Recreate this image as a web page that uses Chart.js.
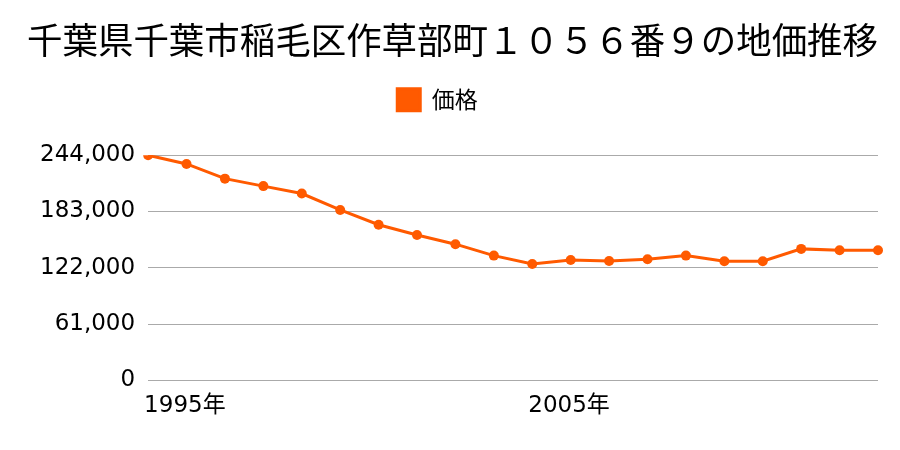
<!DOCTYPE html>
<html>
<head>
<meta charset="utf-8">
<script src="https://cdn.jsdelivr.net/npm/chart.js@4"></script>
<style>
  html, body { margin: 0; padding: 0; background: #fff; }
</style>
</head>
<body>
<canvas id="landChart" width="900" height="450"></canvas>
<script>
const years = ["1995", "1996", "1997", "1998", "1999", "2000", "2001", "2002", "2003", "2004",
               "2005", "2006", "2007", "2008", "2009", "2010", "2011", "2012", "2013", "2014"];
const prices = [244000, 234500, 218600, 210500, 202500, 184700, 168700, 157500, 147600, 135200,
                126100, 130500, 129400, 131300, 135200, 129100, 129100, 142500, 141100, 141100];
const shownYears = ["1995", "2005"];
const yTicks = [0, 61000, 122000, 183000, 244000];

const cjkFont = '"Noto Sans CJK JP", "Noto Sans", sans-serif';
const tickFont = '"DejaVu Sans", "Noto Sans CJK JP", sans-serif';
const lineColor = "#ff5a00";

// more room under the legend, and nudge it a bit to the left
const legendTweak = {
    id: "legendTweak",
    beforeInit(chart) {
        const legend = chart.legend;
        const fit = legend.fit;
        legend.fit = function () {
            fit.call(legend);
            this.height += 34;
        };
        const draw = legend.draw;
        legend.draw = function () {
            chart.ctx.save();
            chart.ctx.translate(-15, 0);
            draw.call(legend);
            chart.ctx.restore();
        };
    }
};

const ctx = document.getElementById("landChart").getContext("2d");

new Chart(ctx, {
    type: "line",
    data: {
        labels: years,
        datasets: [{
            label: "価格",
            data: prices,
            borderColor: lineColor,
            backgroundColor: lineColor,
            borderWidth: 3,
            pointRadius: 5,
            pointHoverRadius: 5,
            pointBackgroundColor: lineColor,
            pointBorderWidth: 0,
            tension: 0
        }]
    },
    options: {
        responsive: false,
        animation: false,
        layout: {
            padding: { left: 27, right: 22, top: 15, bottom: 26 }
        },
        plugins: {
            title: {
                display: true,
                text: "千葉県千葉市稲毛区作草部町１０５６番９の地価推移",
                color: "#000",
                font: { family: cjkFont, size: 36, weight: "normal" },
                padding: { top: 4, bottom: 17 }
            },
            legend: {
                position: "top",
                labels: {
                    color: "#000",
                    font: { family: cjkFont, size: 23 },
                    boxWidth: 23,
                    boxHeight: 22,
                    padding: 9
                },
                onClick: null
            },
            tooltip: { enabled: false }
        },
        scales: {
            x: {
                grid: { display: false },
                border: { display: false },
                ticks: {
                    color: "#000",
                    font: { family: tickFont, size: 23 },
                    autoSkip: false,
                    maxRotation: 0,
                    align: "start",
                    labelOffset: -4,
                    padding: 4,
                    callback: function (value, index) {
                        const y = years[index];
                        return shownYears.includes(y) ? y + "年" : "";
                    }
                }
            },
            y: {
                min: yTicks[0],
                max: yTicks[yTicks.length - 1],
                afterBuildTicks: axis => {
                    axis.ticks = yTicks.map(v => ({ value: v }));
                },
                grid: {
                    color: "#aaaaaa",
                    lineWidth: 1,
                    drawTicks: false
                },
                border: { display: false },
                ticks: {
                    color: "#000",
                    font: { family: tickFont, size: 23 },
                    padding: 13,
                    callback: v => v.toLocaleString("en-US")
                }
            }
        }
    },
    plugins: [legendTweak]
});
</script>
</body>
</html>
